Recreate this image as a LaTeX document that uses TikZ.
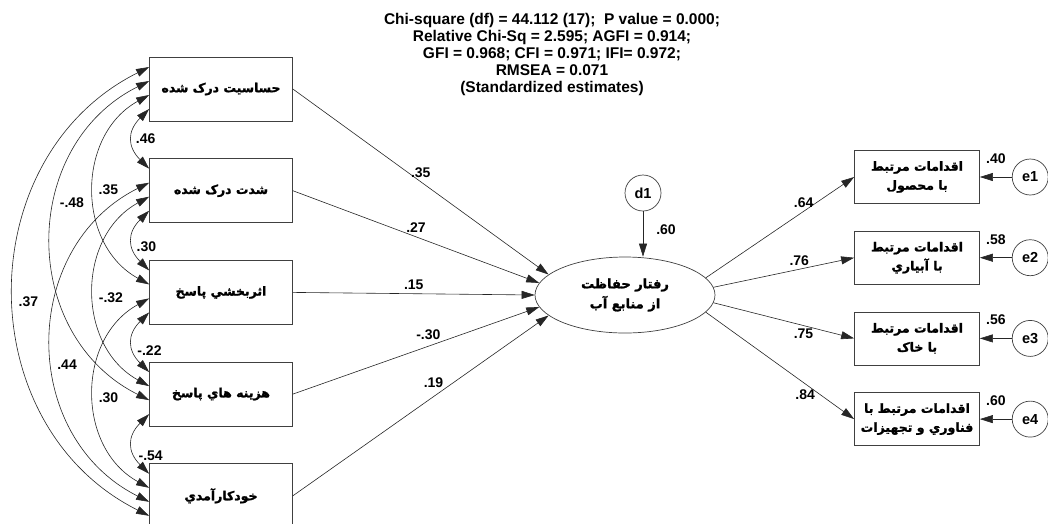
\documentclass[tikz,border=0pt]{standalone}
\usepackage{fontspec}
\setmainfont{Liberation Sans}
\newfontfamily\farsi[Script=Arabic,BoldFeatures={FakeBold=1.5}]{DejaVu Sans}
\TeXXeTstate=1
\usetikzlibrary{positioning,arrows.meta,shapes.geometric}
\tikzset{obsvar/.style={rectangle,draw=black!75,line width=0.7pt,minimum width=143pt,minimum height=64pt,inner sep=0pt,align=center,font=\farsi\bfseries\fontsize{12.5}{19}\selectfont},
	 indvar/.style={obsvar,minimum width=125pt,minimum height=53pt},
	 latvar/.style={ellipse,draw=black!75,line width=0.7pt,minimum width=180pt,minimum height=76pt,inner sep=0pt,align=center,font=\farsi\bfseries\fontsize{13}{20}\selectfont},
	 errvar/.style={circle,draw=black!75,line width=0.7pt,minimum size=36pt,inner sep=0pt,font=\bfseries\fontsize{14.5}{16}\selectfont},
	 coef/.style={inner sep=1pt,font=\bfseries\fontsize{14}{16}\selectfont},
	 regarrow/.style={-{Triangle[length=13pt,width=8pt]},line width=0.6pt,draw=black!85},
	 covarrow/.style={{Triangle[length=13pt,width=8pt]}-{Triangle[length=13pt,width=8pt]},line width=0.6pt,draw=black!85},
	 node distance = 37pt
	 }

\begin{document}
\begin{tikzpicture}[x=1pt,y=-1pt]
	\useasboundingbox (0,0) rectangle (1048,523);
	\node[align=center,font=\bfseries\fontsize{15.5}{17}\selectfont] (fit) at (552,54) {Chi-square (df) = 44.112 (17);\ \ P value = 0.000;\\Relative Chi-Sq = 2.595; AGFI = 0.914;\\GFI = 0.968; CFI = 0.971; IFI= 0.972;\\RMSEA = 0.071\\(Standardized estimates)};
	\node[obsvar] (sens) at (221,89) {\beginR حساسیت درک شده\endR};
	\node[obsvar] (sev) [below=of sens] {\beginR شدت درک شده\endR};
	\node[obsvar] (eff) [below=of sev] {\beginR اثربخشي پاسخ\endR};
	\node[obsvar] (cost) [below=of eff] {\beginR هزینه هاي پاسخ\endR};
	\node[obsvar] (selfeff) [below=of cost] {\beginR خودکارآمدي\endR};
	\node[latvar] (beh) at (625,295) {\beginR رفتار حفاظت\endR\\\beginR از منابع آب\endR};
	\node[errvar] (d1) at (643,193) {d1};
	\node[indvar] (crop) at (917,177) {\beginR اقدامات مرتبط\endR\\\beginR با محصول\endR};
	\node[indvar] (irr) [below=27pt of crop] {\beginR اقدامات مرتبط\endR\\\beginR با آبياري\endR};
	\node[indvar] (soil) [below=27pt of irr] {\beginR اقدامات مرتبط\endR\\\beginR با خاک\endR};
	\node[indvar] (tech) [below=27pt of soil] {\beginR اقدامات مرتبط با\endR\\\beginR فناوري و تجهيزات\endR};
	\node[errvar] (e1) [right=32pt of crop] {e1};
	\node[errvar] (e2) [right=32pt of irr] {e2};
	\node[errvar] (e3) [right=32pt of soil] {e3};
	\node[errvar] (e4) [right=32pt of tech] {e4};
	\foreach \b in {sens,sev,eff,cost,selfeff}
	  \foreach \k/\dy in {0/22,1/8,2/-6,3/-20}
	    \coordinate (\b\k) at ([yshift=\dy pt]\b.west);
	\draw[regarrow] (sens.east) -- (beh.165) node[coef,midway,above=3pt] {.35};
	\draw[regarrow] (sev.east) -- (beh.172) node[coef,midway,above=3pt] {.27};
	\draw[regarrow] (eff.east) -- (beh.180) node[coef,midway,above=3pt] {.15};
	\draw[regarrow] (cost.east) -- (beh.188) node[coef,pos=0.55,above=5pt] {-.30};
	\draw[regarrow] (selfeff.east) -- (beh.195) node[coef,pos=0.55,above=8pt] {.19};
	\draw[regarrow] (d1) -- (d1 |- beh.north) node[coef,pos=0.4,right=12pt] {.60};
	\draw[regarrow] (beh.12) -- (crop.west) node[coef,pos=0.66,above=2pt] {.64};
	\draw[regarrow] (beh.5) -- (irr.west) node[coef,pos=0.61,above=2pt] {.76};
	\draw[regarrow] (beh.-5) -- (soil.west) node[coef,pos=0.64,below=2pt] {.75};
	\draw[regarrow] (beh.-12) -- (tech.west) node[coef,pos=0.67,below=5pt] {.84};
	\draw[regarrow] (e1) -- (crop) node[coef,midway,above=12pt] {.40};
	\draw[regarrow] (e2) -- (irr) node[coef,midway,above=12pt] {.58};
	\draw[regarrow] (e3) -- (soil) node[coef,midway,above=12pt] {.56};
	\draw[regarrow] (e4) -- (tech) node[coef,midway,above=12pt] {.60};
	\draw[covarrow] (sens3) .. controls +(-22,22) and +(-22,-22) .. (sev0) node[coef,pos=0.5,right=2pt] {.46};
	\draw[covarrow] (sev3) .. controls +(-22,22) and +(-22,-22) .. (eff0) node[coef,pos=0.6,right=2pt] {.30};
	\draw[covarrow] (eff3) .. controls +(-22,22) and +(-22,-22) .. (cost0) node[coef,pos=0.65,right=2pt] {-.22};
	\draw[covarrow] (cost3) .. controls +(-22,22) and +(-22,-22) .. (selfeff0) node[coef,pos=0.7,right=2pt] {-.54};
	\draw[covarrow] (sens2) .. controls +(-73,40) and +(-73,-40) .. (eff1) node[coef,pos=0.5,right=3pt] {.35};
	\draw[covarrow] (sev2) .. controls +(-73,40) and +(-73,-40) .. (cost1) node[coef,pos=0.53,right=3pt] {-.32};
	\draw[covarrow] (eff2) .. controls +(-73,40) and +(-73,-40) .. (selfeff1) node[coef,pos=0.52,right=3pt] {.30};
	\draw[covarrow] (sens1) .. controls +(-130,65) and +(-130,-65) .. (cost2) node[coef,pos=0.4,right=3pt] {-.48};
	\draw[covarrow] (sev1) .. controls +(-130,65) and +(-130,-65) .. (selfeff2) node[coef,pos=0.56,right=3pt] {.44};
	\draw[covarrow] (sens0) .. controls +(-180,90) and +(-180,-90) .. (selfeff3) node[coef,pos=0.52,right=3pt] {.37};
\end{tikzpicture}
\end{document}
